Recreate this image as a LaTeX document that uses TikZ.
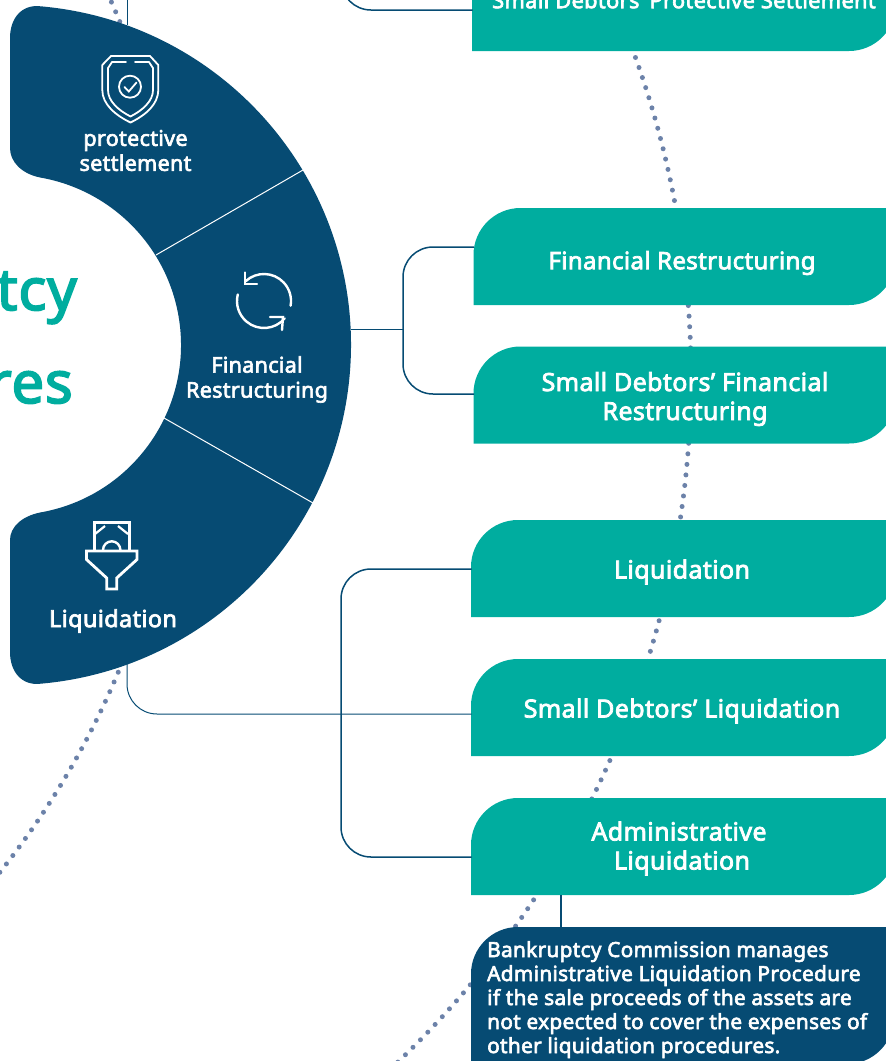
\documentclass[tikz,border=0pt]{standalone}
\usepackage{fontspec}
\setmainfont{Noto Sans}[BoldFont={Noto Sans},BoldFeatures={FakeBold=3,LetterSpace=1.5}]
\usetikzlibrary{calc}
\definecolor{navy}{HTML}{064B73}
\definecolor{tealb}{HTML}{00AD9F}
\definecolor{dotc}{HTML}{6C82A9}
\tikzset{
 x=1pt,y=1pt,
 conn/.style={draw=navy,line width=1.5pt},
 thinconn/.style={draw=navy,line width=1pt},
 dots/.style={draw=dotc,line width=5pt,line cap=round,dash pattern=on 0pt off 10.6pt},
 divider/.style={draw=white,line width=1pt},
 icon/.style={draw=white,line width=2.4pt,line cap=round,line join=miter},
 boxtext/.style={text=white,font=\fontsize{25}{29}\selectfont\bfseries,align=center,inner sep=0pt},
 seglabel/.style={text=white,font=\fontsize{21.5}{25}\selectfont\bfseries,align=center,inner sep=0pt},
 titletext/.style={text=tealb,font=\fontsize{58}{60}\selectfont\bfseries,inner sep=0pt,anchor=base east},
 notetext/.style={text=white,font=\fontsize{20.8}{24}\selectfont\bfseries,align=left,inner sep=0pt,anchor=north west},
}
\newcommand{\procbox}[7]{% name colour left top right bottom radius
 \node[inner sep=0pt,outer sep=0pt,minimum width={#5-#3},minimum height={#6-#4},anchor=north west] (#1) at (#3,-#4) {};
 \fill[#2] (#1.south west) -- ([yshift=-#7]#1.north west) arc[start angle=180,end angle=90,radius=#7]
   -- (#1.north east) -- ([yshift=#7]#1.south east) arc[start angle=0,end angle=-90,radius=#7] -- cycle;
}
\begin{document}
\begin{tikzpicture}
\useasboundingbox (0,0) rectangle (886,-1061);
\clip (0,0) rectangle (886,-1061);
\coordinate (cA) at (-256,-377);
\coordinate (cB) at (-663,-345);
\coordinate (cS) at (11,-345);
% dotted arcs
\draw[dots] ([shift={(21:947)}]cA) arc[start angle=21,end angle=-47,radius=947];
\draw[dots] ([shift={(24.6:847)}]cB) arc[start angle=24.6,end angle=-40,radius=847];
% boxes
\procbox{b1}{tealb}{472}{-46}{896}{51}{47}
\procbox{b2}{tealb}{473.5}{208}{896}{305}{47}
\procbox{b3}{tealb}{473.5}{346.5}{896}{443.5}{47}
\procbox{b4}{tealb}{471}{520}{896}{617}{47}
\procbox{b5}{tealb}{471}{659}{896}{756}{47}
\procbox{b6}{tealb}{471}{798}{896}{895}{47}
\procbox{b7}{navy}{471}{927}{894}{1064}{47}
% connector ends
\coordinate (t1) at (127,0);
\coordinate (t2) at (127,-25);
\coordinate (q1) at (341,25);
\coordinate (q2) at (472.5,-10);
\coordinate (s2) at (351,-329.5);
\coordinate (j2) at (403,-329.5);
\coordinate (e2) at (474,-247);
\coordinate (e3) at (474,-394);
\coordinate (e4) at (471.5,-569);
\coordinate (e6) at (471.5,-857);
\coordinate (j4) at (341,-700);
\coordinate (s5) at (127,-660);
\coordinate (e5) at (471.5,-714);
\coordinate (n6) at (561,-895);
\coordinate (n7) at (561,-927);
% connectors
\draw[thinconn] (t1) -- (t2);
\draw[conn,rounded corners=30pt] (q1) |- (q2);
\draw[conn] (s2) -- (j2);
\draw[conn,rounded corners=30pt] (e2) -| (j2) |- (e3);
\draw[conn,rounded corners=30pt] (e4) -| (j4) |- (e6);
\draw[thinconn,rounded corners=30pt] (s5) |- (e5);
\draw[conn,line width=2pt] (n6) -- (n7);
% sector
\fill[navy] (10,-38) .. controls (10,-18) and (22,-4) .. ([shift={(85:340)}]cS)
  arc[start angle=85,end angle=-85,radius=340]
  .. controls (22,-686) and (10,-672) .. (10,-652) -- (10,-540)
  .. controls (10,-527) and (22,-516) .. ([shift={(-80:170)}]cS)
  arc[start angle=-80,end angle=80,radius=170]
  .. controls (22,-174) and (10,-162) .. (10,-148) -- cycle;
\draw[divider] (156,-255) -- (303,-170);
\draw[divider] (164,-418) -- (313,-503);
% shield icon
\draw[icon,line width=1.8pt,line join=round] (111,-56) -- (150,-56) -- (158.3,-65) -- (158.3,-90)
  .. controls (158.3,-104) and (146,-115) .. (130.5,-122.5)
  .. controls (115,-115) and (102.3,-104) .. (102.3,-90) -- (102.3,-65) -- cycle;
\draw[icon,line width=1.8pt,line join=round] (126,-62) -- (112,-62) -- (108,-68) -- (108,-90)
  .. controls (108,-101) and (118,-110) .. (130.5,-116.5)
  .. controls (143,-110) and (153,-101) .. (153,-90) -- (153,-68) -- (149,-62) -- (135,-62);
\draw[icon,line width=1.8pt] (130,-86.7) circle[radius=11];
\draw[icon,line width=1.8pt] (124.5,-87) -- (128.8,-91.5) -- (136.5,-82.5);
% refresh icon
\coordinate (cR) at (264,-301);
\draw[icon] ([shift={(133:27)}]cR) arc[start angle=133,end angle=-10,radius=27];
\draw[icon] (245,-272.5) -- (245,-284) -- (257,-284);
\draw[icon] ([shift={(-40:27)}]cR) arc[start angle=-40,end angle=-194,radius=27];
\draw[icon] (270,-317) -- (283,-317) -- (282,-330);
% funnel icon
\draw[icon,line width=2.8pt,line cap=butt] (94.5,-550) -- (94.5,-522.8) -- (129.3,-522.8) -- (129.3,-550);
\draw[icon,line width=2.8pt,line cap=butt] (86.5,-551) -- (137,-551) -- (137,-559.5) -- (116.7,-578) -- (116.7,-589) -- (106.7,-589) -- (106.7,-578) -- (86.5,-559.5) -- cycle;
\draw[icon,line width=2.2pt,line cap=butt] (95,-534) -- (105,-526);
\draw[icon,line width=2.2pt,line cap=butt] (128,-534) -- (118,-526);
\draw[icon,line width=2.4pt,line cap=butt] (103,-550) arc[start angle=180,end angle=0,radius=8.7];
% text
\node[titletext] (tt1) at (77,-310) {tcy};
\node[titletext] (tt2) at (73,-403) {res};
\node[seglabel] (l1) at (135.5,-150.5) {protective\\settlement};
\node[seglabel] (l2) at (257,-379.5) {Financial\\Restructuring};
\node[seglabel,font=\fontsize{23.5}{28}\selectfont\bfseries] (l3) at (113,-621) {Liquidation};
\node[boxtext,font=\fontsize{21.8}{29}\selectfont\bfseries] (x1) at (684,0) {Small Debtors’ Protective Settlement};
\node[boxtext,font=\fontsize{24}{29}\selectfont\bfseries] (x2) at (682,-263) {Financial Restructuring};
\node[boxtext] (x3) at (685,-399) {Small Debtors’ Financial\\Restructuring};
\node[boxtext] (x4) at (682,-572) {Liquidation};
\node[boxtext] (x5) at (682,-711) {Small Debtors’ Liquidation};
\node[boxtext] (x6) at (682,-848.5) {Administrative\hspace*{6pt}\\Liquidation};
\node[notetext] (x7) at (487,-941) {Bankruptcy Commission manages\\Administrative Liquidation Procedure\\if the sale proceeds of the assets are\\not expected to cover the expenses of\\other liquidation procedures.};
\end{tikzpicture}
\end{document}
